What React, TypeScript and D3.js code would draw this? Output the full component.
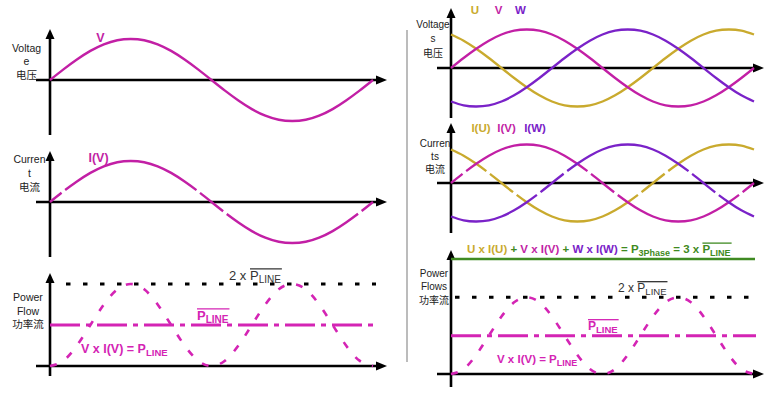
import React, { useEffect, useRef } from 'react';
import * as d3 from 'd3';

// ---- data (normalised values, 15° steps over one cycle) ----
const phaseDeg = [0, 15, 30, 45, 60, 75, 90, 105, 120, 135, 150, 165, 180, 195, 210, 225, 240, 255, 270, 285, 300, 315, 330, 345, 360];
const waveU = [0.87, 0.71, 0.5, 0.26, 0, -0.26, -0.5, -0.71, -0.87, -0.97, -1, -0.97, -0.87, -0.71, -0.5, -0.26, 0, 0.26, 0.5, 0.71, 0.87, 0.97, 1, 0.97, 0.87];
const waveV = [0, 0.26, 0.5, 0.71, 0.87, 0.97, 1, 0.97, 0.87, 0.71, 0.5, 0.26, 0, -0.26, -0.5, -0.71, -0.87, -0.97, -1, -0.97, -0.87, -0.71, -0.5, -0.26, 0];
const waveW = [-0.87, -0.97, -1, -0.97, -0.87, -0.71, -0.5, -0.26, 0, 0.26, 0.5, 0.71, 0.87, 0.97, 1, 0.97, 0.87, 0.71, 0.5, 0.26, 0, -0.26, -0.5, -0.71, -0.87];
const powerV = [0, 0.13, 0.5, 1, 1.5, 1.87, 2, 1.87, 1.5, 1, 0.5, 0.13, 0, 0.13, 0.5, 1, 1.5, 1.87, 2, 1.87, 1.5, 1, 0.5, 0.13, 0];
const powerLevels = [1, 2, 3]; // P_LINE average, 2 x P_LINE, 3-phase total

const phaseNames = ['U', 'V', 'W'];
const currentNames = ['I(U)', 'I(V)', 'I(W)'];
const leftAxisLabels = [['Voltag', 'e', '电压'], ['Curren', 't', '电流'], ['Power', 'Flow', '功率流']];
const rightAxisLabels = [['Voltage', 's', '电压'], ['Curren', 'ts', '电流'], ['Power', 'Flows', '功率流']];

const C_U = '#c9aa2e';
const C_V = '#c21fa5';
const C_W = '#7a22c8';
const C_P = '#d424b4';
const C_G = '#3f8a22';
const FONT = '"Liberation Sans", Arial, sans-serif';
const CJK = '"Noto Sans CJK SC", sans-serif';

export default function App() {
  const ref = useRef<SVGSVGElement | null>(null);

  useEffect(() => {
    const svg = d3.select(ref.current);
    svg.selectAll('*').remove();
    const waves = [waveU, waveV, waveW];
    const colors = [C_U, C_V, C_W];

    const arrowAxes = (axisX: number, yTop: number, yBot: number, xAxisY: number, xLeft: number, xTip: number) => {
      const g = svg.append('g');
      g.append('line').attr('x1', axisX).attr('x2', axisX).attr('y1', yBot).attr('y2', yTop + 8)
        .attr('stroke', '#000').attr('stroke-width', 2.6);
      g.append('path').attr('d', `M${axisX},${yTop}L${axisX - 4.5},${yTop + 10}L${axisX + 4.5},${yTop + 10}Z`).attr('fill', '#000');
      g.append('line').attr('x1', xLeft).attr('x2', xTip - 8).attr('y1', xAxisY).attr('y2', xAxisY)
        .attr('stroke', '#000').attr('stroke-width', 2.4);
      g.append('path').attr('d', `M${xTip},${xAxisY}L${xTip - 11},${xAxisY - 4.5}L${xTip - 11},${xAxisY + 4.5}Z`).attr('fill', '#000');
    };

    const lineGen = (x: d3.ScaleLinear<number, number>, y: d3.ScaleLinear<number, number>) =>
      d3.line<number>().x((_, i) => x(phaseDeg[i])).y((d) => y(d)).curve(d3.curveNatural);

    const lengthAtX = (node: SVGPathElement, tx: number) => {
      let lo = 0, hi = node.getTotalLength();
      for (let k = 0; k < 30; k++) {
        const mid = (lo + hi) / 2;
        if (node.getPointAtLength(mid).x < tx) lo = mid; else hi = mid;
      }
      return (lo + hi) / 2;
    };

    const dashAroundZeros = (node: SVGPathElement, x: d3.ScaleLinear<number, number>, wave: number[]) => {
      const total = node.getTotalLength();
      const centers: number[] = [];
      wave.forEach((v, i) => {
        if (v === 0) {
          const s = lengthAtX(node, x(phaseDeg[i]));
          if (s - 17 > 0) centers.push(s - 17);
          if (s + 17 < total) centers.push(s + 17);
        }
      });
      centers.sort((a, b) => a - b);
      const arr: number[] = [];
      let pos = 0;
      const gw = 4.5;
      centers.forEach((c) => {
        arr.push(Math.max(0, c - gw / 2 - pos), gw);
        pos = c + gw / 2;
      });
      arr.push(total - pos + 1, total);
      node.setAttribute('stroke-dasharray', arr.join(' '));
    };

    const addText = (x: number, y: number, parts: { t: string; size: number; dy?: number; fill?: string; weight?: string; family?: string }[], anchor = 'start', overlineFrom = -1) => {
      const t = svg.append('text').attr('x', x).attr('y', y).attr('text-anchor', anchor).attr('font-family', FONT);
      parts.forEach((p) => {
        t.append('tspan').text(p.t).attr('font-size', p.size).attr('dy', p.dy ?? 0)
          .attr('fill', p.fill ?? '#222').attr('font-weight', p.weight ?? 'normal')
          .attr('font-family', p.family ?? FONT);
      });
      if (overlineFrom >= 0) {
        const node = t.node() as SVGTextElement;
        let idx = 0;
        for (let i = 0; i < overlineFrom; i++) idx += parts[i].t.length;
        const n = node.getNumberOfChars();
        const sx = node.getStartPositionOfChar(idx).x;
        const ex = node.getEndPositionOfChar(n - 1).x;
        const size = parts[overlineFrom].size;
        const fill = parts[overlineFrom].fill ?? '#222';
        svg.append('line').attr('x1', sx).attr('x2', ex + 1).attr('y1', y - size * 0.86).attr('y2', y - size * 0.86)
          .attr('stroke', fill).attr('stroke-width', 1.3);
      }
      return t;
    };

    const axisLabel = (cx: number, ys: number[], lines: string[], size: number) => {
      lines.forEach((s, i) => {
        const cjk = /[\u4e00-\u9fff]/.test(s);
        svg.append('text').attr('x', cx).attr('y', ys[i]).attr('text-anchor', 'middle')
          .attr('font-family', cjk ? CJK : FONT).attr('font-size', size).attr('fill', '#222').text(s);
      });
    };

    // divider
    svg.append('line').attr('x1', 407).attr('x2', 407).attr('y1', 30).attr('y2', 362).attr('stroke', '#a0a0a0').attr('stroke-width', 1.4);

    // ================= LEFT =================
    const xL = d3.scaleLinear().domain([0, 360]).range([50, 373]);
    const yL1 = d3.scaleLinear().domain([-1, 1]).range([121, 39]);
    const yL2 = d3.scaleLinear().domain([-1, 1]).range([243, 161]);
    const yL3 = d3.scaleLinear().domain([0, 2]).range([366, 284]);

    arrowAxes(50, 29, 135, 80, 36, 387);
    arrowAxes(50, 151, 257, 202, 36, 387);
    arrowAxes(50, 273, 376, 366, 36, 387);

    svg.append('path').attr('d', lineGen(xL, yL1)(waveV)).attr('fill', 'none').attr('stroke', C_V).attr('stroke-width', 2.4);
    const curL = svg.append('path').attr('d', lineGen(xL, yL2)(waveV)).attr('fill', 'none').attr('stroke', C_V).attr('stroke-width', 2.4);
    dashAroundZeros(curL.node() as SVGPathElement, xL, waveV);

    // power panel left
    svg.append('line').attr('x1', 66).attr('x2', 376).attr('y1', yL3(powerLevels[1])).attr('y2', yL3(powerLevels[1]))
      .attr('stroke', '#000').attr('stroke-width', 3).attr('stroke-dasharray', '4.5 12.5');
    svg.append('line').attr('x1', 50).attr('x2', 376).attr('y1', yL3(powerLevels[0])).attr('y2', yL3(powerLevels[0]))
      .attr('stroke', C_P).attr('stroke-width', 3).attr('stroke-dasharray', '30 6 5 6');
    svg.append('path').attr('d', lineGen(xL, yL3)(powerV)).attr('fill', 'none').attr('stroke', C_P).attr('stroke-width', 2.6)
      .attr('stroke-dasharray', '7 12');

    addText(100.5, 42, [{ t: 'V', size: 12.5, fill: C_V, weight: 'bold' }], 'middle');
    addText(98.5, 162, [{ t: 'I(V)', size: 12.5, fill: C_V, weight: 'bold' }], 'middle');
    addText(229, 280, [{ t: '2 x ', size: 13, fill: '#333' }, { t: 'P', size: 13, fill: '#333' }, { t: 'LINE', size: 10, dy: 3, fill: '#333' }], 'start', 1);
    addText(197, 320, [{ t: 'P', size: 13, fill: C_P, weight: 'bold' }, { t: 'LINE', size: 10, dy: 3, fill: C_P, weight: 'bold' }], 'start', 0);
    addText(81, 353, [{ t: 'V x I(V) = P', size: 12.5, fill: C_P, weight: 'bold' }, { t: 'LINE', size: 9.5, dy: 3, fill: C_P, weight: 'bold' }]);

    axisLabel(26.5, [52, 65, 79], leftAxisLabels[0], 10.5);
    axisLabel(29.5, [163, 177, 191], leftAxisLabels[1], 10.5);
    axisLabel(28, [301, 315, 328], leftAxisLabels[2], 10.5);

    // ================= RIGHT =================
    const xR = d3.scaleLinear().domain([0, 360]).range([451, 754]);
    const yR1 = d3.scaleLinear().domain([-1, 1]).range([106.5, 29.5]);
    const yR2 = d3.scaleLinear().domain([-1, 1]).range([221.5, 144.5]);
    const yR3 = d3.scaleLinear().domain([0, 3]).range([374, 259]);

    arrowAxes(451, 8, 118, 68, 437, 764);
    arrowAxes(451, 123, 233, 183, 437, 764);
    arrowAxes(451, 250, 387, 374, 437, 764);

    waves.forEach((w, i) => {
      svg.append('path').attr('d', lineGen(xR, yR1)(w)).attr('fill', 'none').attr('stroke', colors[i]).attr('stroke-width', 2.3);
    });
    waves.forEach((w, i) => {
      const p = svg.append('path').attr('d', lineGen(xR, yR2)(w)).attr('fill', 'none').attr('stroke', colors[i]).attr('stroke-width', 2.3);
      dashAroundZeros(p.node() as SVGPathElement, xR, w);
    });

    svg.append('line').attr('x1', 451).attr('x2', 755).attr('y1', yR3(powerLevels[2])).attr('y2', yR3(powerLevels[2]))
      .attr('stroke', C_G).attr('stroke-width', 2.6);
    svg.append('line').attr('x1', 455).attr('x2', 756).attr('y1', yR3(powerLevels[1])).attr('y2', yR3(powerLevels[1]))
      .attr('stroke', '#000').attr('stroke-width', 3).attr('stroke-dasharray', '4.5 12.5');
    svg.append('line').attr('x1', 451).attr('x2', 756).attr('y1', yR3(powerLevels[0])).attr('y2', yR3(powerLevels[0]))
      .attr('stroke', C_P).attr('stroke-width', 3).attr('stroke-dasharray', '30 6 5 6');
    svg.append('path').attr('d', lineGen(xR, yR3)(powerV)).attr('fill', 'none').attr('stroke', C_P).attr('stroke-width', 2.6)
      .attr('stroke-dasharray', '7 12');

    const uvwX = [475, 498.5, 520.5];
    phaseNames.forEach((n, i) => addText(uvwX[i], 13.5, [{ t: n, size: 11.5, fill: colors[i], weight: 'bold' }], 'middle'));
    const iX = [481, 506.5, 535];
    currentNames.forEach((n, i) => addText(iX[i], 132, [{ t: n, size: 11.5, fill: colors[i], weight: 'bold' }], 'middle'));

    addText(618, 292, [{ t: '2 x ', size: 12, fill: '#333' }, { t: 'P', size: 12, fill: '#333' }, { t: 'LINE', size: 9.5, dy: 3, fill: '#333' }], 'start', 1);
    addText(588, 330, [{ t: 'P', size: 12, fill: C_P, weight: 'bold' }, { t: 'LINE', size: 9.5, dy: 3, fill: C_P, weight: 'bold' }], 'start', 0);
    addText(497, 363, [{ t: 'V x I(V) = P', size: 11.5, fill: C_P, weight: 'bold' }, { t: 'LINE', size: 9, dy: 3, fill: C_P, weight: 'bold' }]);

    addText(467, 253, [
      { t: 'U x I(U)', size: 11.5, fill: C_U, weight: 'bold' },
      { t: ' + ', size: 11.5, fill: C_G, weight: 'bold' },
      { t: 'V x I(V)', size: 11.5, fill: C_V, weight: 'bold' },
      { t: ' + ', size: 11.5, fill: C_G, weight: 'bold' },
      { t: 'W x I(W)', size: 11.5, fill: C_W, weight: 'bold' },
      { t: ' = P', size: 11.5, fill: C_G, weight: 'bold' },
      { t: '3Phase', size: 9, dy: 3, fill: C_G, weight: 'bold' },
      { t: ' = 3 x ', size: 11.5, dy: -3, fill: C_G, weight: 'bold' },
      { t: 'P', size: 11.5, fill: C_G, weight: 'bold' },
      { t: 'LINE', size: 9, dy: 3, fill: C_G, weight: 'bold' },
    ], 'start', 8);

    axisLabel(433, [28, 42, 57], rightAxisLabels[0], 10);
    axisLabel(435, [147, 160, 173], rightAxisLabels[1], 10);
    axisLabel(434, [277, 290, 304], rightAxisLabels[2], 10);
  }, []);

  return (
    <svg ref={ref} width={774} height={395} style={{ position: 'absolute', left: 0, top: 0, background: '#fff' }} />
  );
}
